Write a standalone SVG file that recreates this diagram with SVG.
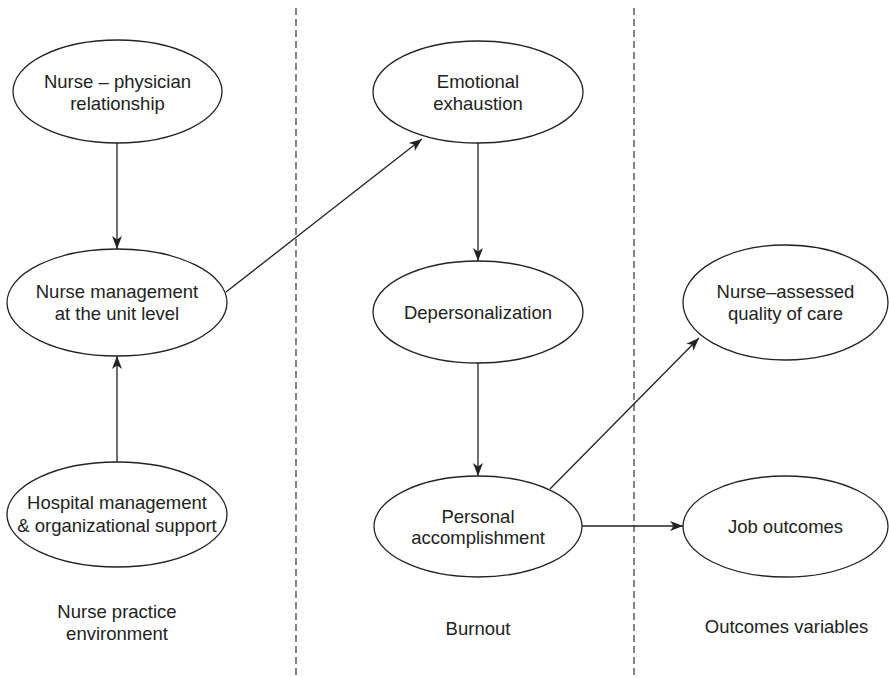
<svg xmlns="http://www.w3.org/2000/svg" width="889" height="678" viewBox="0 0 889 678">
<style>
.node ellipse{fill:#fff;stroke:#222;stroke-width:1.3}
text{font-family:"Liberation Sans",Arial,sans-serif;font-size:18.5px;fill:#222;text-anchor:middle}
.conn line{stroke:#222;stroke-width:1.3;fill:none}
.divider{stroke:#333;stroke-width:1.2;stroke-dasharray:7 4}
</style>
<defs>
<marker id="ah" markerUnits="userSpaceOnUse" markerWidth="16" markerHeight="12" viewBox="-13 -6 14 12" refX="0" refY="0" orient="auto">
<path d="M0,0 L-13,-5 L-9.5,0 L-13,5 Z" fill="#222"/>
</marker>
</defs>
<rect width="889" height="678" fill="#fff"/>
<g id="dividers">
<line class="divider" x1="296" y1="8" x2="296" y2="678"/>
<line class="divider" x1="634" y1="8" x2="634" y2="678"/>
</g>
<g class="conn" id="connectors">
<line x1="117" y1="143" x2="117" y2="249" marker-end="url(#ah)"/>
<line x1="117" y1="462" x2="117" y2="356" marker-end="url(#ah)"/>
<line x1="226" y1="292" x2="422" y2="139" marker-end="url(#ah)"/>
<line x1="478" y1="143" x2="478" y2="261" marker-end="url(#ah)"/>
<line x1="478" y1="363" x2="478" y2="476" marker-end="url(#ah)"/>
<line x1="550" y1="489" x2="699" y2="338" marker-end="url(#ah)"/>
<line x1="582" y1="526" x2="683" y2="526" marker-end="url(#ah)"/>
</g>
<g class="node" id="n-physician">
<ellipse cx="117.5" cy="91.5" rx="104.5" ry="51.5"/>
<text x="117.5" y="88">Nurse – physician</text>
<text x="117.5" y="109.5">relationship</text>
</g>
<g class="node" id="n-management">
<ellipse cx="117" cy="302.5" rx="110" ry="53.5"/>
<text x="117" y="298">Nurse management</text>
<text x="117" y="319.5">at the unit level</text>
</g>
<g class="node" id="n-hospital">
<ellipse cx="117" cy="514.5" rx="110" ry="52.5"/>
<text x="117" y="509">Hospital management</text>
<text x="117" y="531.5">&amp; organizational support</text>
</g>
<g class="node" id="n-emotional">
<ellipse cx="478" cy="92" rx="105" ry="51"/>
<text x="478" y="88">Emotional</text>
<text x="478" y="109.5">exhaustion</text>
</g>
<g class="node" id="n-depersonalization">
<ellipse cx="478" cy="312" rx="105" ry="51"/>
<text x="478" y="319">Depersonalization</text>
</g>
<g class="node" id="n-personal">
<ellipse cx="478" cy="526.5" rx="104" ry="50.5"/>
<text x="478" y="522.5">Personal</text>
<text x="478" y="544">accomplishment</text>
</g>
<g class="node" id="n-quality">
<ellipse cx="785.5" cy="302.5" rx="102.5" ry="57.5"/>
<text x="785.5" y="298">Nurse–assessed</text>
<text x="785.5" y="319.5">quality of care</text>
</g>
<g class="node" id="n-job">
<ellipse cx="785.5" cy="526.5" rx="102.5" ry="50.5"/>
<text x="785.5" y="533">Job outcomes</text>
</g>
<g id="labels">
<text x="117" y="618">Nurse practice</text>
<text x="117" y="639.5">environment</text>
<text x="478" y="635">Burnout</text>
<text x="786.5" y="633">Outcomes variables</text>
</g>
</svg>
